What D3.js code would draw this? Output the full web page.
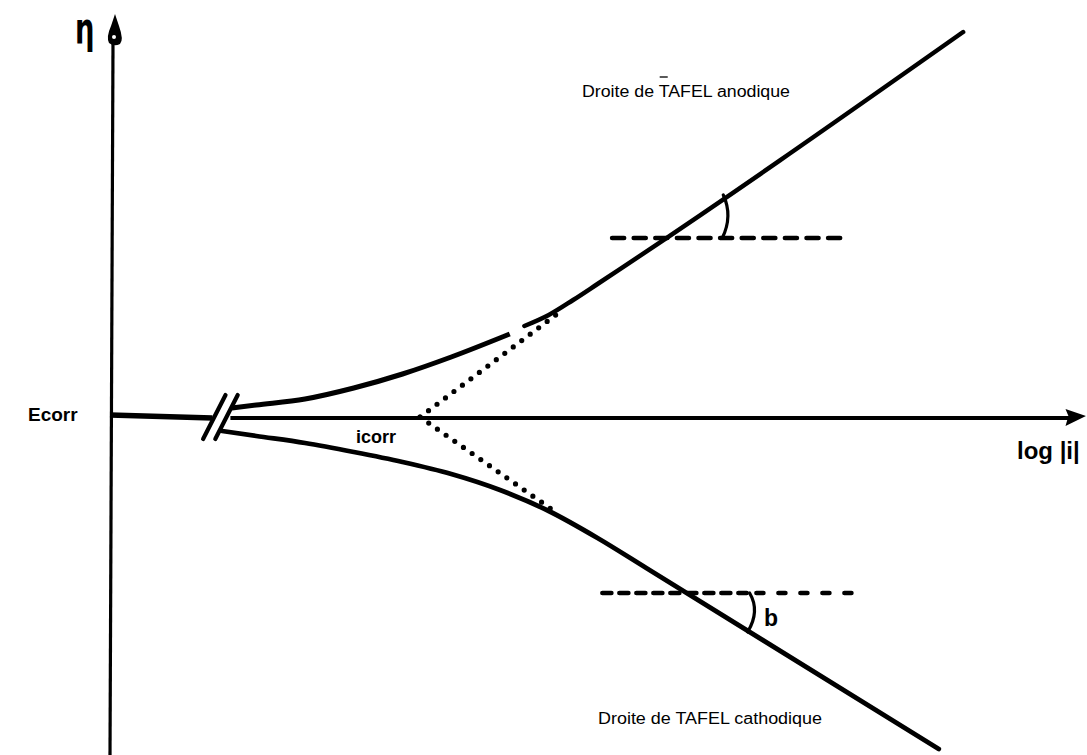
<!DOCTYPE html>
<html>
<head>
<meta charset="utf-8">
<script src="https://cdn.jsdelivr.net/npm/d3@7"></script>
<style>
  html, body { margin: 0; padding: 0; background: #fff; }
  svg { display: block; }
</style>
</head>
<body>
<script>
// Polarisation curve, η versus log|i| (log|i| in decades from the η axis, η in mV)
const anodicLowX    = [1.25, 1.5, 2.0, 2.5, 3.0, 3.5, 4.1];
const anodicLowEta  = [9, 12, 18, 29, 43, 60, 83];
const anodicHighX   = [4.25, 4.5, 4.75, 5.0, 8.75];
const anodicHighEta = [91, 102, 117, 133, 385];
const cathodicX     = [1.15, 1.5, 2.0, 2.5, 3.0, 3.5, 4.0, 4.5, 5.0, 5.5, 8.5];
const cathodicEta   = [-14, -19, -26, -35, -45, -57, -73, -94, -121, -151, -332];

// Tafel extrapolations back to the corrosion point
const icorrPoint        = [3.18, 0];
const anodicExtrapEnd   = [4.64, 107];
const cathodicExtrapEnd = [4.54, -93];

// Horizontal references used to show the Tafel slopes
const anodicRefX     = [5.15, 7.57];
const anodicRefEta   = 179;
const cathodicRefX   = [5.05, 6.53, 7.66];
const cathodicRefEta = -176;

// Angle marks: [start, control, end] as [log|i|, η]
const anodicAngle   = [[6.29, 222], [6.39, 201], [6.28, 179]];
const cathodicAngle = [[6.56, -176], [6.67, -194], [6.54, -215]];

// Axis break on log|i|
const breakX = [1.07, 1.195];
const breakHalfEta = 22;
const breakHalfX = 0.115;

const W = 1087, H = 755;
const ink = "#000";
const sans = "'Liberation Sans', Arial, Helvetica, sans-serif";

const x = d3.scaleLinear().domain([0, 10]).range([110, 1085]);
const y = d3.scaleLinear().domain([-340, 400]).range([757, 17]);

const svg = d3.select("body").append("svg")
  .attr("width", W).attr("height", H)
  .attr("viewBox", `0 0 ${W} ${H}`);

const zip = (xs, ys) => xs.map((v, i) => [v, ys[i]]);
const curve = d3.line().x(d => x(d[0])).y(d => y(d[1])).curve(d3.curveMonotoneX);
const straight = d3.line().x(d => x(d[0])).y(d => y(d[1]));

// ---- η axis ----
svg.append("line")
  .attr("x1", x(0) + 3).attr("y1", y(374))
  .attr("x2", x(0)).attr("y2", H)
  .attr("stroke", ink).attr("stroke-width", 3.2);

{
  // teardrop arrowhead on top of the η axis
  const ax = x(0) + 4, tipY = y(403), baseY = y(373);
  const p = d3.path();
  p.moveTo(ax + 1, tipY);
  p.lineTo(ax + 5, tipY + 12);
  p.quadraticCurveTo(ax + 10, baseY - 4, ax + 6, baseY);
  p.quadraticCurveTo(ax, baseY + 3, ax - 5, baseY - 1);
  p.quadraticCurveTo(ax - 8, baseY - 7, ax - 3, tipY + 12);
  p.closePath();
  svg.append("path").attr("d", p.toString()).attr("fill", ink);
  svg.append("circle").attr("cx", ax).attr("cy", baseY - 7).attr("r", 2).attr("fill", "#fff");
}

svg.append("text")
  .attr("transform", "translate(75,43) scale(0.72,1.1)")
  .attr("font-family", "'DejaVu Sans', sans-serif")
  .attr("font-weight", "bold")
  .attr("font-size", 38)
  .attr("fill", ink)
  .text("η");

// ---- log|i| axis with break ----
svg.append("path")
  .attr("d", straight([[0, 2], [breakX[0] - 0.02, -1]]))
  .attr("stroke", ink).attr("stroke-width", 5.5).attr("fill", "none");

svg.append("path")
  .attr("d", straight([[breakX[1] + 0.04, -1], [9.85, -1]]))
  .attr("stroke", ink).attr("stroke-width", 4.2).attr("fill", "none");

svg.append("path")
  .attr("d", straight([[10.01, 1], [9.8, 8], [9.83, 1], [9.8, -9]]) + "Z")
  .attr("fill", ink);

breakX.forEach(bx => {
  svg.append("path")
    .attr("d", straight([[bx - breakHalfX, -breakHalfEta], [bx + breakHalfX, breakHalfEta]]))
    .attr("stroke", ink).attr("stroke-width", 4.2).attr("stroke-linecap", "round").attr("fill", "none");
});

// ---- polarisation branches ----
svg.append("path")
  .attr("d", curve(zip(anodicLowX, anodicLowEta)))
  .attr("stroke", ink).attr("stroke-width", 5).attr("fill", "none");
svg.append("path")
  .attr("d", curve(zip(anodicHighX, anodicHighEta)))
  .attr("stroke", ink).attr("stroke-width", 4.5).attr("fill", "none").attr("stroke-linecap", "round");
svg.append("path")
  .attr("d", curve(zip(cathodicX, cathodicEta)))
  .attr("stroke", ink).attr("stroke-width", 4.8).attr("fill", "none").attr("stroke-linecap", "round");

// ---- dotted Tafel extrapolations ----
[anodicExtrapEnd, cathodicExtrapEnd].forEach(end => {
  svg.append("path")
    .attr("d", straight([icorrPoint, end]))
    .attr("stroke", ink).attr("stroke-width", 5.2)
    .attr("stroke-linecap", "round")
    .attr("stroke-dasharray", "0,10.6")
    .attr("fill", "none");
});

// ---- dashed horizontal references ----
svg.append("path")
  .attr("d", straight([[anodicRefX[0], anodicRefEta], [anodicRefX[1], anodicRefEta]]))
  .attr("stroke", ink).attr("stroke-width", 4.6)
  .attr("stroke-linecap", "round").attr("stroke-dasharray", "12,9.6")
  .attr("fill", "none");

svg.append("path")
  .attr("d", straight([[cathodicRefX[0], cathodicRefEta], [cathodicRefX[1], cathodicRefEta]]))
  .attr("stroke", ink).attr("stroke-width", 4.6)
  .attr("stroke-linecap", "round").attr("stroke-dasharray", "9,8")
  .attr("fill", "none");
svg.append("path")
  .attr("d", straight([[cathodicRefX[1] + 0.1, cathodicRefEta], [cathodicRefX[2], cathodicRefEta]]))
  .attr("stroke", ink).attr("stroke-width", 4.6)
  .attr("stroke-linecap", "round").attr("stroke-dasharray", "7,15")
  .attr("fill", "none");

// ---- slope angle marks ----
[anodicAngle, cathodicAngle].forEach(a => {
  const p = d3.path();
  p.moveTo(x(a[0][0]), y(a[0][1]));
  p.quadraticCurveTo(x(a[1][0]), y(a[1][1]), x(a[2][0]), y(a[2][1]));
  svg.append("path").attr("d", p.toString())
    .attr("stroke", ink).attr("stroke-width", 3.2).attr("fill", "none").attr("stroke-linecap", "round");
});

// ---- labels ----
svg.append("text")
  .attr("x", 28).attr("y", 421)
  .attr("font-family", sans).attr("font-weight", "bold").attr("font-size", 19)
  .attr("fill", ink).text("Ecorr");

svg.append("text")
  .attr("x", 356).attr("y", 443)
  .attr("font-family", sans).attr("font-weight", "bold").attr("font-size", 18)
  .attr("fill", ink).text("icorr");

svg.append("text")
  .attr("x", 1017).attr("y", 459)
  .attr("font-family", sans).attr("font-weight", "bold").attr("font-size", 24)
  .attr("fill", ink).text("log |i|");

svg.append("text")
  .attr("x", 764).attr("y", 626)
  .attr("font-family", sans).attr("font-weight", "bold").attr("font-size", 23)
  .attr("fill", ink).text("b");

const anodicTitle = svg.append("text")
  .attr("x", 582).attr("y", 97)
  .attr("font-family", sans).attr("font-size", 16)
  .attr("textLength", 208).attr("lengthAdjust", "spacingAndGlyphs")
  .attr("fill", ink).text("Droite de TAFEL anodique");

{
  // bar over the "T" of TAFEL
  const node = anodicTitle.node();
  const s = node.getStartPositionOfChar(10);
  const e = node.getEndPositionOfChar(10);
  svg.append("line")
    .attr("x1", s.x + 1).attr("x2", e.x - 0.5)
    .attr("y1", 77).attr("y2", 77)
    .attr("stroke", ink).attr("stroke-width", 1.3);
}

svg.append("text")
  .attr("x", 598).attr("y", 724)
  .attr("font-family", sans).attr("font-size", 16)
  .attr("textLength", 224).attr("lengthAdjust", "spacingAndGlyphs")
  .attr("fill", ink).text("Droite de TAFEL cathodique");
</script>
</body>
</html>
